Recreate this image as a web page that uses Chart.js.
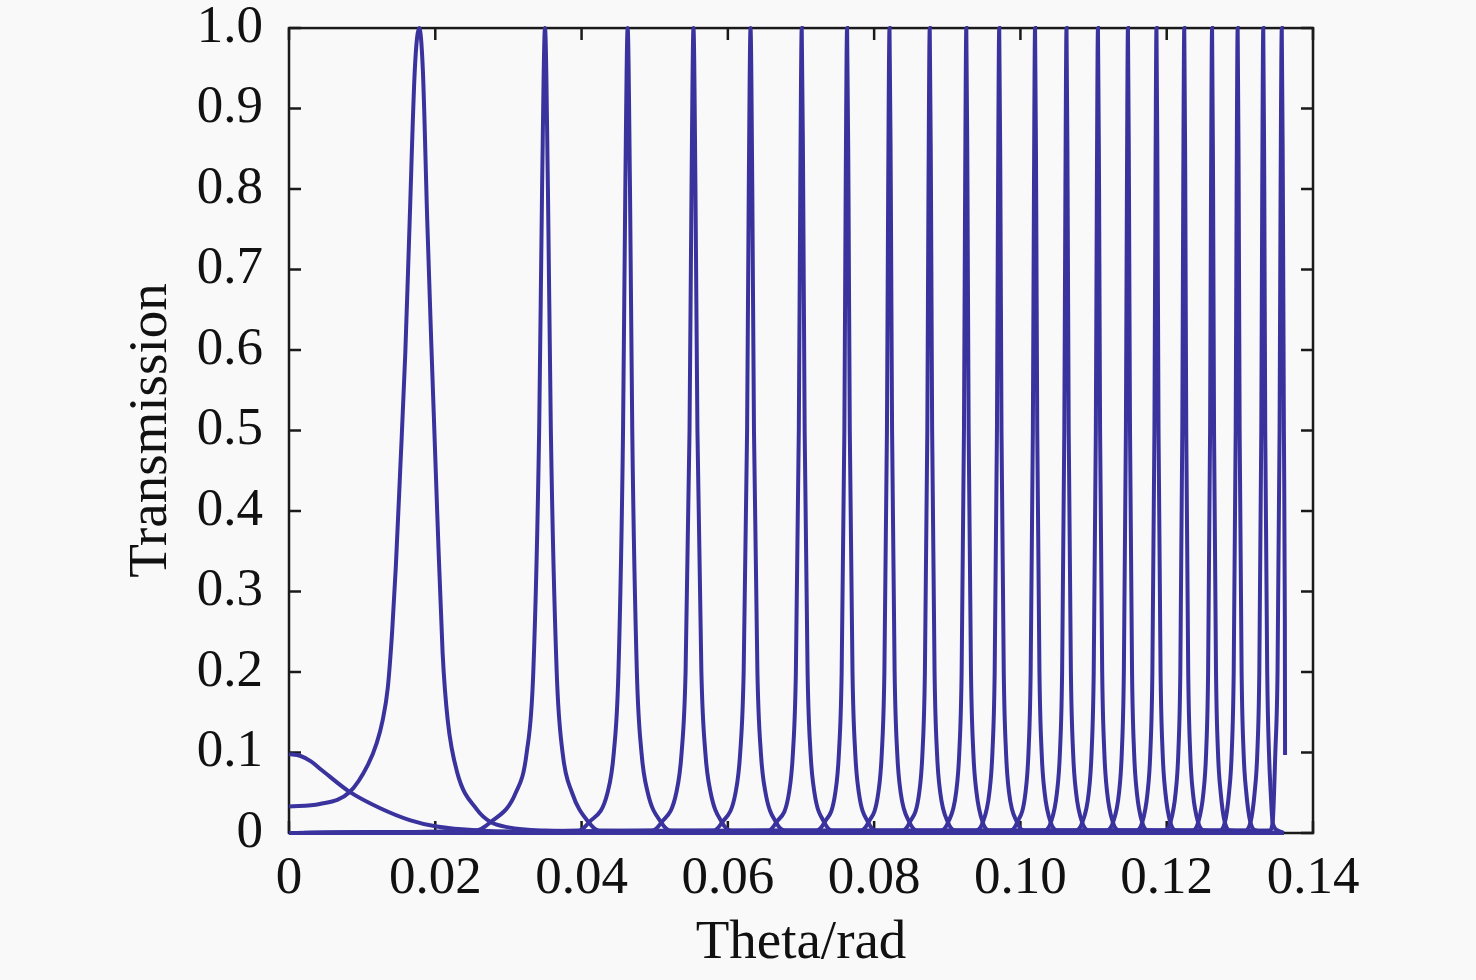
<!DOCTYPE html>
<html>
<head>
<meta charset="utf-8">
<script src="https://cdn.jsdelivr.net/npm/chart.js@4.4.1/dist/chart.umd.min.js"></script>
<style>
  html,body{margin:0;padding:0;background:#f9f9f9;}
  #wrap{width:1476px;height:980px;}
</style>
</head>
<body>
<div id="wrap"><canvas id="chart" width="1476" height="980"></canvas></div>
<script>
// Data
const xTicks=[0,0.02,0.04,0.06,0.08,0.10,0.12,0.14];
const yTicks=[0,0.1,0.2,0.3,0.4,0.5,0.6,0.7,0.8,0.9,1.0];

// decaying curve that starts at 0.1
const decayX=[0,0.0015,0.0030,0.0045,0.0083,0.0124,0.0165,0.0202,0.0260,0.0350,0.0500,0.1360];
const decayY=[0.098,0.096,0.089,0.078,0.051,0.031,0.016,0.008,0.003,0.001,0,0];

// first (wide) peak
const peak01X=[0,0.0042,0.0083,0.0108,0.0120,0.0128,0.0135,0.0141,0.0146,0.0152,0.0159,0.0165,0.0172,0.0178,0.0183,0.0189,0.0195,0.0203,0.0210,0.0217,0.0230,0.0257,0.0275,0.0300,0.0350,0.0500,0.1360];
const peak01Y=[0.033,0.036,0.051,0.085,0.112,0.140,0.180,0.250,0.330,0.450,0.596,0.761,0.948,1.0,0.948,0.761,0.596,0.389,0.224,0.140,0.075,0.029,0.014,0.007,0.003,0.001,0];

// levels shared by peaks 2..20
const peakLevels=[0,0.003,0.013,0.05,0.1,0.2,0.5,0.8,1,0.8,0.5,0.2,0.1,0.05,0.013,0.003,0];
const peak02X=[0,0.0255,0.0275,0.0310,0.0325,0.0334,0.0342,0.0346,0.0350,0.0354,0.0358,0.0366,0.0374,0.0387,0.0410,0.0424,0.1360];
const peak03X=[0,0.0396,0.0410,0.04355,0.04441,0.04504,0.04567,0.04598,0.0463,0.04662,0.04693,0.04756,0.04819,0.04905,0.0509,0.0522,0.1360];
const peak04X=[0,0.0496,0.0509,0.05295,0.05368,0.05422,0.05476,0.05503,0.0553,0.05557,0.05584,0.05638,0.05692,0.05765,0.0592,0.0604,0.1360];
const peak05X=[0,0.0580,0.0592,0.06105,0.06169,0.06216,0.06263,0.06286,0.0631,0.06334,0.06357,0.06404,0.06451,0.06515,0.0666,0.0678,0.1360];
const peak06X=[0,0.0655,0.0666,0.06836,0.0689,0.0693,0.0697,0.0699,0.0701,0.0703,0.0705,0.0709,0.0713,0.07184,0.0732,0.0743,0.1360];
const peak07X=[0,0.0721,0.0732,0.07469,0.07519,0.07556,0.07593,0.07611,0.0763,0.07649,0.07667,0.07704,0.07741,0.07791,0.0792,0.0803,0.1360];
const peak08X=[0,0.0781,0.0792,0.08057,0.08105,0.0814,0.08175,0.08192,0.0821,0.08228,0.08245,0.0828,0.08315,0.08363,0.08485,0.0859,0.1360];
const peak09X=[0,0.0838,0.08485,0.08616,0.08661,0.08694,0.08727,0.08743,0.0876,0.08777,0.08793,0.08826,0.08859,0.08904,0.0901,0.0911,0.1360];
const peak10X=[0,0.0891,0.0901,0.0912,0.09164,0.09196,0.09228,0.09244,0.0926,0.09276,0.09292,0.09324,0.09356,0.0940,0.09485,0.0958,0.1360];
const peak11X=[0,0.0939,0.09485,0.09575,0.09617,0.09648,0.09679,0.09694,0.0971,0.09726,0.09741,0.09772,0.09803,0.09845,0.09955,0.1005,0.1360];
const peak12X=[0,0.0986,0.09955,0.10069,0.1011,0.1014,0.1017,0.10185,0.1020,0.10215,0.1023,0.1026,0.1029,0.10331,0.10415,0.1051,0.1360];
const peak13X=[0,0.1032,0.10415,0.10499,0.1054,0.1057,0.1060,0.10615,0.1063,0.10645,0.1066,0.1069,0.1072,0.10761,0.10845,0.1094,0.1360];
const peak14X=[0,0.1075,0.10845,0.10934,0.10973,0.11002,0.11031,0.11045,0.1106,0.11075,0.11089,0.11118,0.11147,0.11186,0.11265,0.1136,0.1360];
const peak15X=[0,0.1117,0.11265,0.11348,0.11386,0.11414,0.11442,0.11456,0.1147,0.11484,0.11498,0.11526,0.11554,0.11592,0.11665,0.1176,0.1360];
const peak16X=[0,0.1157,0.11665,0.11738,0.11776,0.11804,0.11832,0.11846,0.1186,0.11874,0.11888,0.11916,0.11944,0.11982,0.1205,0.1214,0.1360];
const peak17X=[0,0.1196,0.1205,0.12122,0.12159,0.12186,0.12213,0.12226,0.1224,0.12254,0.12267,0.12294,0.12321,0.12358,0.1243,0.1252,0.1360];
const peak18X=[0,0.1234,0.1243,0.12502,0.12539,0.12566,0.12593,0.12606,0.1262,0.12634,0.12647,0.12674,0.12701,0.12738,0.12795,0.1288,0.1360];
const peak19X=[0,0.1271,0.12795,0.12852,0.12889,0.12916,0.12943,0.12956,0.1297,0.12984,0.12997,0.13024,0.13051,0.13088,0.13145,0.1323,0.1360];
const peak20X=[0,0.1306,0.13145,0.13202,0.13239,0.13266,0.13293,0.13306,0.1332,0.13334,0.13347,0.13374,0.13398,0.13422,0.13448,0.1352,0.1360];

// last peak, cut off on the right
const peak21X=[0,0.1340,0.13448,0.13485,0.13515,0.13543,0.13557,0.13573,0.13588,0.13602,0.13615,0.13618];
const peak21Y=[0,0.003,0.013,0.1,0.2,0.5,0.8,1.0,0.8,0.5,0.265,0.097];

const lineColor='#3a339e';
const pts=(xs,ys)=>xs.map((x,i)=>({x:x,y:ys[i]}));

const curves=[
  pts(decayX,decayY),
  pts(peak01X,peak01Y),
  ...[peak02X,peak03X,peak04X,peak05X,peak06X,peak07X,peak08X,peak09X,peak10X,
      peak11X,peak12X,peak13X,peak14X,peak15X,peak16X,peak17X,peak18X,peak19X,peak20X]
      .map(xs=>pts(xs,peakLevels)),
  pts(peak21X,peak21Y)
];

// Box + inward ticks on all four sides, drawn under the curves
const frame={
  id:'frame',
  beforeDatasetsDraw(chart){
    const {ctx,chartArea:a,scales:{x,y}}=chart;
    ctx.save();
    ctx.strokeStyle='#1a1a1a';
    ctx.lineWidth=2.5;
    ctx.strokeRect(a.left,a.top,a.right-a.left,a.bottom-a.top);
    ctx.beginPath();
    xTicks.forEach(v=>{
      const px=x.getPixelForValue(v);
      ctx.moveTo(px,a.bottom);ctx.lineTo(px,a.bottom-12);
      ctx.moveTo(px,a.top);ctx.lineTo(px,a.top+12);
    });
    yTicks.forEach(v=>{
      const py=y.getPixelForValue(v);
      ctx.moveTo(a.left,py);ctx.lineTo(a.left+12,py);
      ctx.moveTo(a.right,py);ctx.lineTo(a.right-12,py);
    });
    ctx.stroke();
    ctx.restore();
  }
};

Chart.defaults.font.family='"Liberation Serif","Times New Roman",serif';
Chart.defaults.font.size=53;
Chart.defaults.color='#111';

const ctx=document.getElementById('chart').getContext('2d');
new Chart(ctx,{
  type:'line',
  data:{datasets:curves.map(d=>({
    data:d,borderColor:lineColor,borderWidth:4,pointRadius:0,
    cubicInterpolationMode:'monotone',fill:false,clip:false
  }))},
  options:{
    responsive:false,animation:false,
    layout:{padding:{left:0,right:163,top:0,bottom:0}},
    plugins:{legend:{display:false},tooltip:{enabled:false}},
    scales:{
      x:{type:'linear',min:0,max:0.14,
        afterBuildTicks:s=>{s.ticks=xTicks.map(v=>({value:v}));},
        afterFit:s=>{s.height=147;},
        grid:{display:false},border:{display:false},
        ticks:{padding:6,maxRotation:0,autoSkip:false,
          callback:v=>v===0?'0':v.toFixed(2)},
        title:{display:true,text:'Theta/rad',font:{size:55},padding:{top:0,bottom:3}}
      },
      y:{type:'linear',min:0,max:1,
        afterBuildTicks:s=>{s.ticks=yTicks.map(v=>({value:v}));},
        afterFit:s=>{s.width=289;},
        grid:{display:false},border:{display:false},
        ticks:{padding:18,autoSkip:false,font:{size:53,lineHeight:0.38},
          callback:v=>v===0?'0':v.toFixed(1)},
        title:{display:true,text:'Transmission',font:{size:55},padding:{top:119,bottom:0}}
      }
    }
  },
  plugins:[frame]
});
</script>
</body>
</html>
